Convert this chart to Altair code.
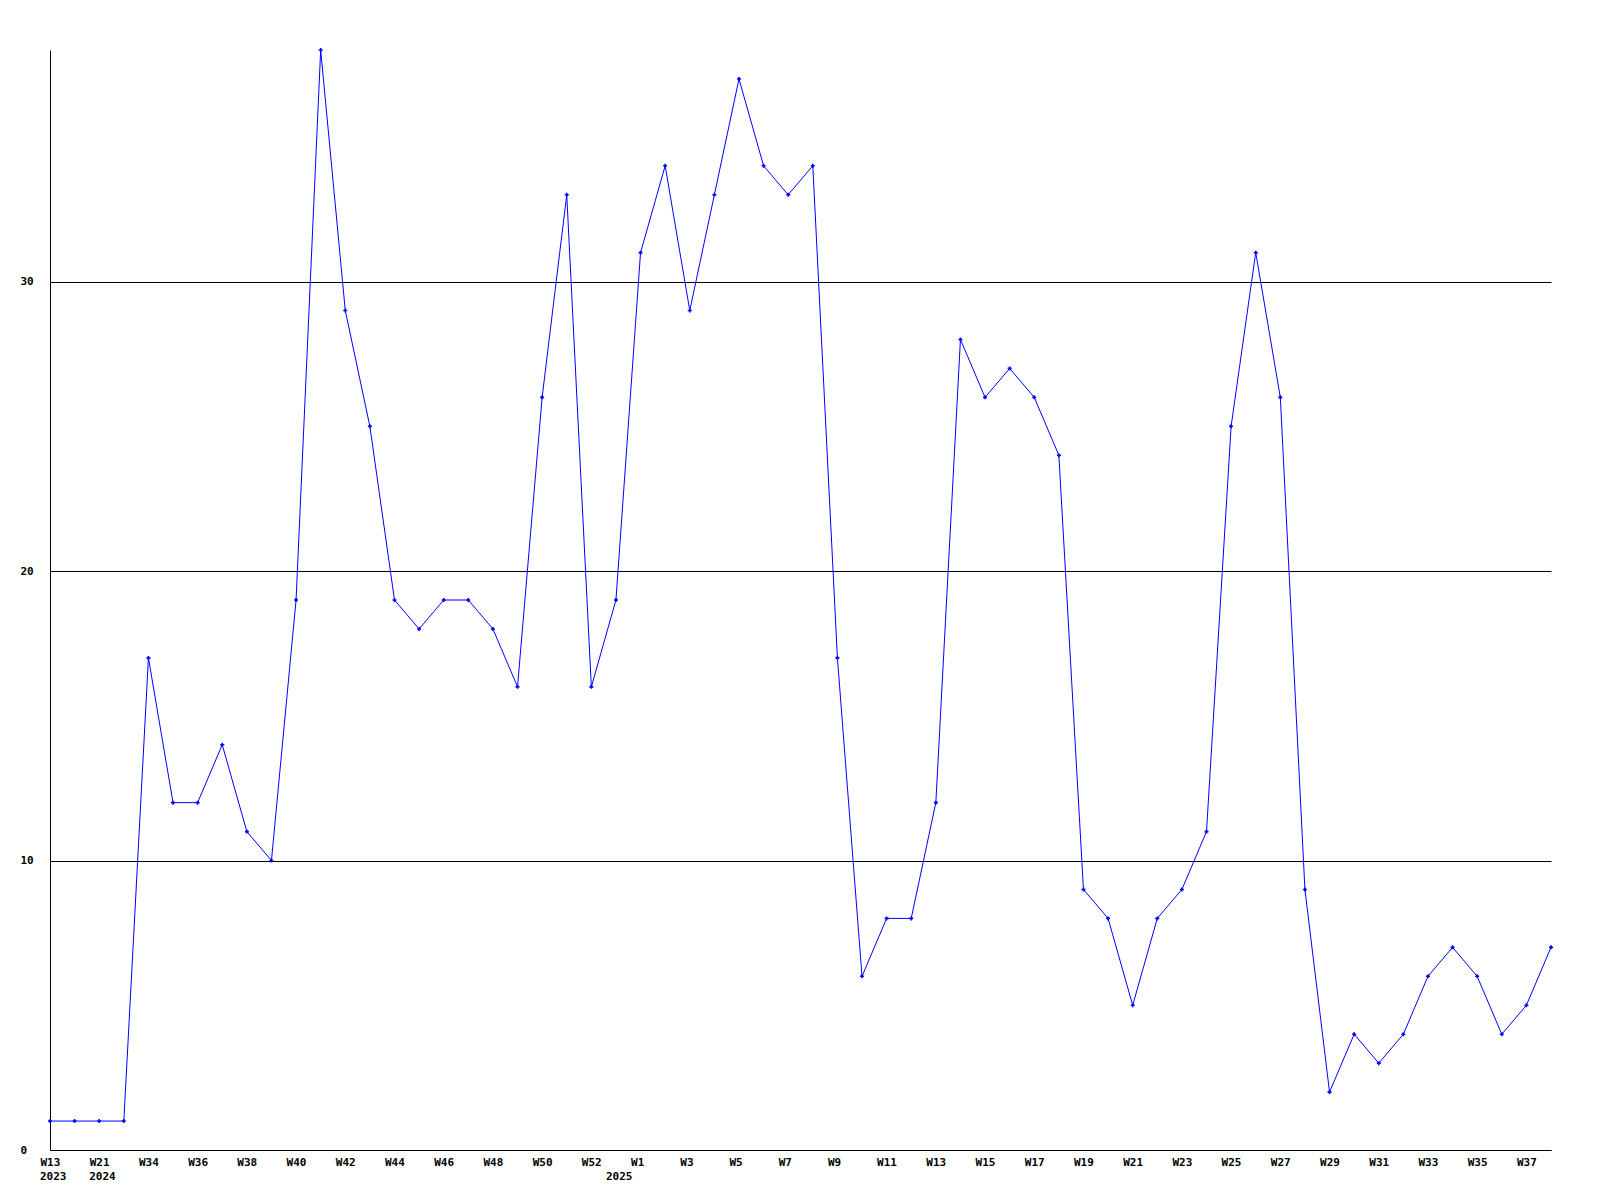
import json
import altair as alt
import pandas as pd

weeks = ["W13", "W15", "W21", "W30",
         "W34", "W35", "W36", "W37", "W38", "W39", "W40", "W41", "W42", "W43",
         "W44", "W45", "W46", "W47", "W48", "W49", "W50", "W51", "W52",
         "W0", "W1", "W2", "W3", "W4", "W5", "W6", "W7", "W8", "W9", "W10",
         "W11", "W12", "W13", "W14", "W15", "W16", "W17", "W18", "W19", "W20",
         "W21", "W22", "W23", "W24", "W25", "W26", "W27", "W28", "W29", "W30",
         "W31", "W32", "W33", "W34", "W35", "W36", "W37", "W38"]
years = ["2023", "", "2024", ""] + [""] * 19 + ["2025"] + [""] * 38
counts = [1, 1, 1, 1, 17, 12, 12, 14, 11, 10, 19, 38, 29, 25, 19, 18, 19, 19,
          18, 16, 26, 33, 16, 19, 31, 34, 29, 33, 37, 34, 33, 34, 17, 6, 8, 8,
          12, 28, 26, 27, 26, 24, 9, 8, 5, 8, 9, 11, 25, 31, 26, 9, 2, 4, 3, 4,
          6, 7, 6, 4, 5, 7]
y_ticks = [0, 10, 20, 30]

idx = list(range(len(counts)))
df = pd.DataFrame({"idx": idx, "week": weeks, "year": years, "count": counts})
year_df = df[df["year"] != ""]

FONT = "DejaVu Sans Mono"
BLUE = "#0000ff"

x_enc = alt.X(
    "idx:Q",
    scale=alt.Scale(domain=[0, len(counts) - 1], nice=False, zero=False),
    axis=alt.Axis(
        values=[i for i in idx if i % 2 == 0],
        labelExpr=json.dumps(weeks) + "[datum.value]",
        title=None, grid=False, ticks=False, tickSize=0,
        labelAlign="left", labelBaseline="top", labelOffset=-10, labelPadding=6,
        labelFont=FONT, labelFontWeight="bold", labelFontSize=11, labelColor="black",
        domainColor="black", domainWidth=1, labelOverlap=False, labelFlush=False,
        labelBound=False,
    ),
)
y_enc = alt.Y(
    "count:Q",
    scale=alt.Scale(domain=[0, 38], nice=False, zero=True),
    axis=alt.Axis(
        values=y_ticks, title=None, grid=True, gridColor="black", gridOpacity=1,
        gridWidth=1, ticks=False, tickSize=0,
        labelAlign="left", labelBaseline="middle", labelPadding=30,
        labelFont=FONT, labelFontWeight="bold", labelFontSize=11, labelColor="black",
        domainColor="black", domainWidth=1, labelOverlap=False, labelFlush=False,
        labelBound=False,
    ),
)

base = alt.Chart(df)
line = base.mark_line(color=BLUE, strokeWidth=1).encode(x=x_enc, y=y_enc)
pts = base.mark_point(shape="cross", filled=True, size=16, color=BLUE, opacity=1).encode(x=x_enc, y=y_enc)
year_text = alt.Chart(year_df).mark_text(
    align="left", baseline="middle", dx=-10, font=FONT, fontWeight="bold",
    fontSize=11, color="black"
).encode(x=alt.X("idx:Q"), y=alt.value(1127), text="year:N")

chart = alt.layer(line, pts, year_text).properties(
    width=1501, height=1100,
    autosize=alt.AutoSizeParams(type="none"),
    padding={"left": 42, "top": 42, "right": 20, "bottom": 40},
    background="white",
).configure_view(stroke=None)

chart.save("out.html", embed_options={"renderer": "svg", "actions": False})
